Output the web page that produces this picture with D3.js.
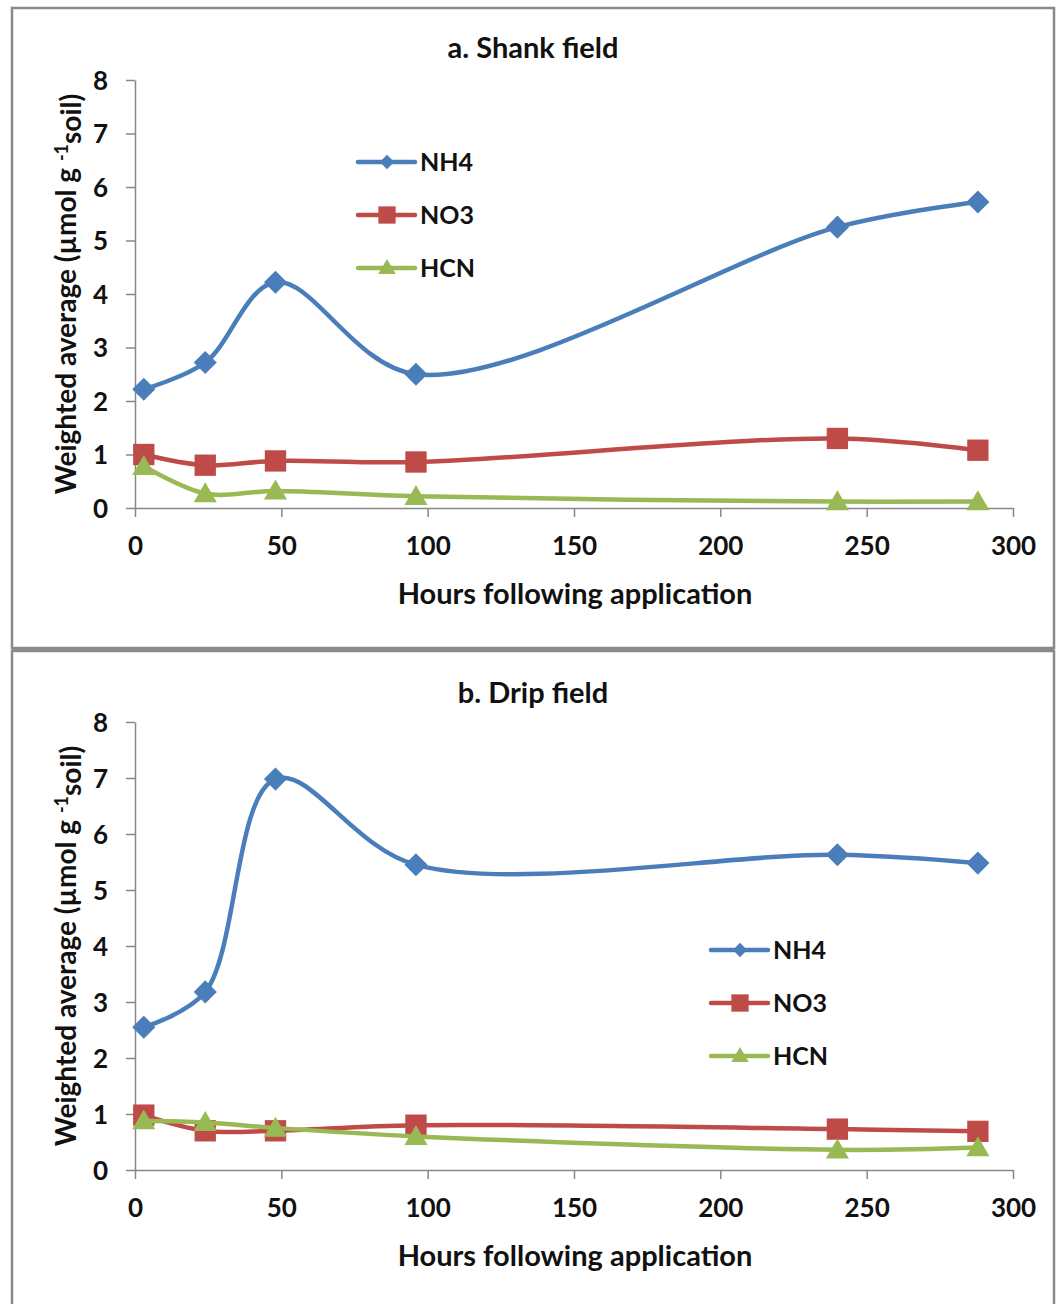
<!DOCTYPE html>
<html>
<head>
<meta charset="utf-8">
<script src="https://cdn.jsdelivr.net/npm/d3@7"></script>
<style>
  body { margin: 0; background: #fff; }
  text { font-family: Lato, "Open Sans", sans-serif; font-weight: bold; fill: #111; }
</style>
</head>
<body>
<div id="chart"></div>
<script>
// hours after application (same for both fields)
const hours = [3, 24, 48, 96, 240, 288];
const seriesNames = ["NH4", "NO3", "HCN"];
const xTicks = [0, 50, 100, 150, 200, 250, 300];
const yTicks = [0, 1, 2, 3, 4, 5, 6, 7, 8];

// a. Shank field
const shank_nh4 = [2.22, 2.72, 4.22, 2.5, 5.25, 5.72];
const shank_no3 = [1.0, 0.8, 0.88, 0.86, 1.3, 1.08];
const shank_hcn = [0.78, 0.27, 0.32, 0.22, 0.12, 0.12];

// b. Drip field
const drip_nh4 = [2.55, 3.18, 6.98, 5.45, 5.63, 5.48];
const drip_no3 = [0.98, 0.7, 0.7, 0.8, 0.73, 0.69];
const drip_hcn = [0.88, 0.85, 0.75, 0.6, 0.36, 0.4];

const colors = {NH4: "#4a7ebb", NO3: "#be4b48", HCN: "#98b954"};
const symbols = {NH4: d3.symbolDiamond2, NO3: d3.symbolSquare2, HCN: d3.symbolTriangle2};
const markerSize = {NH4: 340, NO3: 580, HCN: 380};
const legendSize = {NH4: 130, NO3: 380, HCN: 220};

const svg = d3.select("#chart").append("svg")
    .attr("width", 1060)
    .attr("height", 1304);

// panel frames
svg.append("rect").attr("x", 12).attr("y", 8).attr("width", 1042).attr("height", 640)
    .attr("fill", "none").attr("stroke", "#8a8a8a").attr("stroke-width", 2.5);
svg.append("rect").attr("x", 12).attr("y", 651).attr("width", 1042).attr("height", 680)
    .attr("fill", "none").attr("stroke", "#8a8a8a").attr("stroke-width", 2.5);
svg.append("rect").attr("x", 12).attr("y", 647).attr("width", 1042).attr("height", 5)
    .attr("fill", "#8a8a8a");

function markerPath(name, size) {
    return d3.symbol().type(symbols[name]).size(size)();
}

function drawPanel(cfg) {
    const g = svg.append("g");
    const x = d3.scaleLinear().domain([0, 300]).range([135, 1013]);
    const y = d3.scaleLinear().domain([0, 8]).range([cfg.y0, cfg.y8]);

    // title
    g.append("text").attr("x", 533).attr("y", cfg.titleY)
        .attr("text-anchor", "middle").style("font-size", "29px").text(cfg.title);

    // axes
    const xAxis = g.append("g").attr("transform", `translate(0,${cfg.y0})`)
        .call(d3.axisBottom(x).tickValues(xTicks).tickSize(9).tickPadding(20).tickSizeOuter(0));
    const yAxis = g.append("g").attr("transform", "translate(135,0)")
        .call(d3.axisLeft(y).tickValues(yTicks).tickSize(9).tickPadding(18).tickSizeOuter(0));
    [xAxis, yAxis].forEach(a => {
        a.select(".domain").attr("stroke", "#878787").attr("stroke-width", 1.5);
        a.selectAll(".tick line").attr("stroke", "#878787").attr("stroke-width", 1.5);
        a.selectAll(".tick text").style("font-size", "26px").attr("fill", "#111")
            .style("font-family", "Lato, sans-serif").style("font-weight", "bold");
    });
    xAxis.selectAll(".tick text").attr("dy", "0.71em");
    yAxis.selectAll(".tick text").attr("dy", "0.36em");

    // axis titles
    g.append("text").attr("x", 575).attr("y", cfg.y0 + 96)
        .attr("text-anchor", "middle").style("font-size", "29px").text("Hours following application");
    const yl = g.append("text")
        .attr("transform", `translate(76,${(cfg.y0 + cfg.y8) / 2}) rotate(-90)`)
        .attr("text-anchor", "middle").style("font-size", "28px");
    yl.append("tspan").text("Weighted average (µmol g ");
    yl.append("tspan").attr("dy", "-0.45em").style("font-size", "18px").text("-1");
    yl.append("tspan").attr("dy", "0.45em").text("soil)");

    // lines
    const line = d3.line()
        .x(d => x(d[0]))
        .y(d => y(d[1]))
        .curve(d3.curveCatmullRom.alpha(0.5));

    cfg.series.forEach((vals, i) => {
        const name = seriesNames[i];
        const pts = hours.map((h, j) => [h, vals[j]]);
        g.append("path").datum(pts)
            .attr("d", line)
            .attr("fill", "none")
            .attr("stroke", colors[name])
            .attr("stroke-width", 4.5)
            .attr("stroke-linecap", "round");
        g.selectAll(".m" + name).data(pts).enter().append("path")
            .attr("transform", d => `translate(${x(d[0])},${y(d[1]) + (name === "HCN" ? 2 : 0)})`)
            .attr("d", markerPath(name, markerSize[name]))
            .attr("fill", colors[name]);
    });

    // legend
    seriesNames.forEach((name, i) => {
        const ly = cfg.legY + i * 53;
        const lg = g.append("g").attr("transform", `translate(${cfg.legX},${ly})`);
        lg.append("line").attr("x1", 0).attr("x2", 57).attr("y1", 0).attr("y2", 0)
            .attr("stroke", colors[name]).attr("stroke-width", 4.5).attr("stroke-linecap", "round");
        lg.append("path").attr("transform", `translate(29,${name === "HCN" ? 1 : 0})`)
            .attr("d", markerPath(name, legendSize[name]))
            .attr("fill", colors[name]);
        lg.append("text").attr("x", 62).attr("y", 0).attr("dy", "0.36em")
            .style("font-size", "25px").text(name);
    });
}

drawPanel({
    title: "a. Shank field", titleY: 58, y0: 508, y8: 80,
    series: [shank_nh4, shank_no3, shank_hcn], legX: 358, legY: 162
});
drawPanel({
    title: "b. Drip field", titleY: 703, y0: 1170, y8: 722,
    series: [drip_nh4, drip_no3, drip_hcn], legX: 711, legY: 950
});
</script>
</body>
</html>
